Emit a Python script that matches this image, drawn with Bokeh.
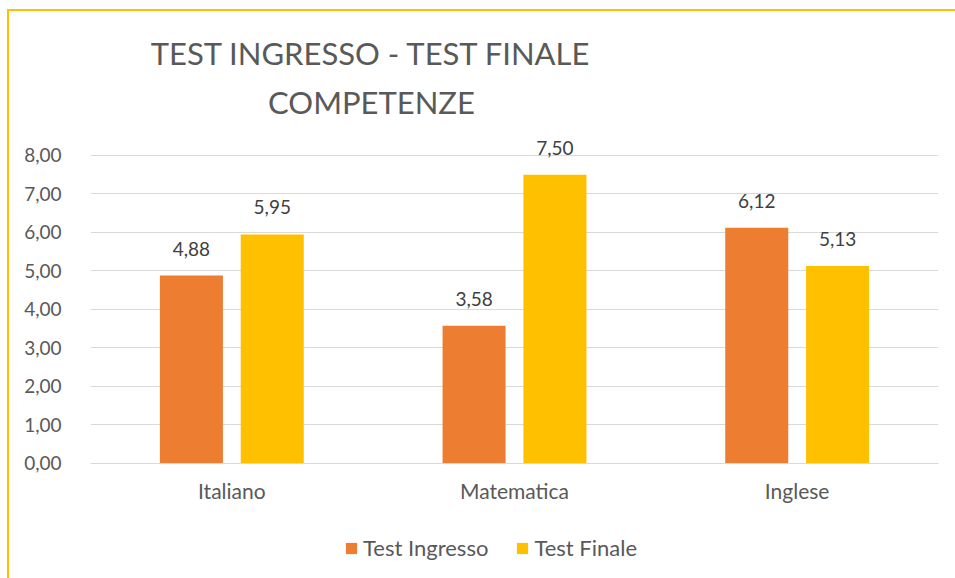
from bokeh.plotting import figure
from bokeh.models import (ColumnDataSource, FactorRange, LabelSet, Legend, LegendItem,
                          CustomJSTickFormatter, Range1d, Label)
from bokeh.core.properties import value
from bokeh.transform import dodge
from bokeh.embed import file_html
from bokeh.resources import INLINE

categories = ["Italiano", "Matematica", "Inglese"]
test_ingresso = [4.88, 3.58, 6.12]
test_finale = [5.95, 7.50, 5.13]
series_names = ["Test Ingresso", "Test Finale"]
title_lines = ["TEST INGRESSO - TEST FINALE", "COMPETENZE"]
y_ticks = [0, 1, 2, 3, 4, 5, 6, 7, 8]

FONT = "Lato"
GREY = "#595959"
ORANGE = "#ED7D31"
GOLD = "#FFC000"

def fmt(v):
    return f"{v:.2f}".replace(".", ",")

src = ColumnDataSource(dict(
    cat=categories,
    ing=test_ingresso,
    fin=test_finale,
    ing_lbl=[fmt(v) for v in test_ingresso],
    fin_lbl=[fmt(v) for v in test_finale],
))

# the frame spans the whole chart area so the title and legend can sit inside it;
# the value axis only shows 0..8 and the category axis is pinned at 0
p = figure(x_range=FactorRange(*categories, range_padding=0), y_range=Range1d(-2.987, 11.74),
           frame_width=848, frame_height=567, output_backend="svg", toolbar_location=None,
           min_border_left=81, min_border_right=17, min_border_top=0, min_border_bottom=0)
p.title = None
p.outline_line_color = None
p.styles = {"margin-top": "9px", "margin-left": "7px",
            "border-top": f"2px solid {GOLD}", "border-left": f"2px solid {GOLD}"}

r1 = p.vbar(x=dodge("cat", -0.143, range=p.x_range), top="ing", width=0.223,
            source=src, color=ORANGE, line_color=None)
r2 = p.vbar(x=dodge("cat", 0.143, range=p.x_range), top="fin", width=0.223,
            source=src, color=GOLD, line_color=None)

for col, off in (("ing", -0.143), ("fin", 0.143)):
    p.add_layout(LabelSet(x=dodge("cat", off, range=p.x_range), y=col, text=col + "_lbl",
                          source=src, text_align="center", text_baseline="bottom",
                          y_offset=20, text_font=value(FONT), text_font_size="19px",
                          text_color="#404040"))

# chart title (two centred lines)
for line, y in zip(title_lines, (10.66, 9.40)):
    p.add_layout(Label(x=0.994, y=y, text=line, text_align="center",
                       text_baseline="alphabetic", text_font=FONT,
                       text_font_size="31px", text_color=GREY))

# y axis
p.yaxis.ticker = y_ticks
p.yaxis.formatter = CustomJSTickFormatter(code="return tick.toFixed(2).replace('.', ',');")
p.yaxis.axis_line_color = None
p.yaxis.major_tick_line_color = None
p.yaxis.minor_tick_line_color = None
p.yaxis.major_label_standoff = 23
p.yaxis.major_label_text_font = FONT
p.yaxis.major_label_text_font_size = "19px"
p.yaxis.major_label_text_color = GREY

# x axis
p.xaxis.fixed_location = 0
p.xaxis.axis_line_color = "#D9D9D9"
p.xaxis.major_tick_line_color = None
p.xaxis.minor_tick_line_color = None
p.xaxis.major_label_standoff = 9
p.xaxis.major_label_text_font = FONT
p.xaxis.major_label_text_font_size = "21px"
p.xaxis.major_label_text_color = GREY

p.xgrid.grid_line_color = None
p.ygrid.grid_line_color = "#D9D9D9"
p.ygrid.grid_line_width = 1

legend = Legend(items=[LegendItem(label=series_names[0], renderers=[r1]),
                       LegendItem(label=series_names[1], renderers=[r2])],
                orientation="horizontal", location=(254, 17),
                glyph_width=14, glyph_height=14, label_standoff=5, spacing=27,
                padding=0, margin=0, border_line_color=None, background_fill_alpha=0,
                label_text_font=FONT, label_text_font_size="22px", label_text_color=GREY)
p.add_layout(legend, "center")

open("out.html", "w").write(file_html(p, INLINE))
